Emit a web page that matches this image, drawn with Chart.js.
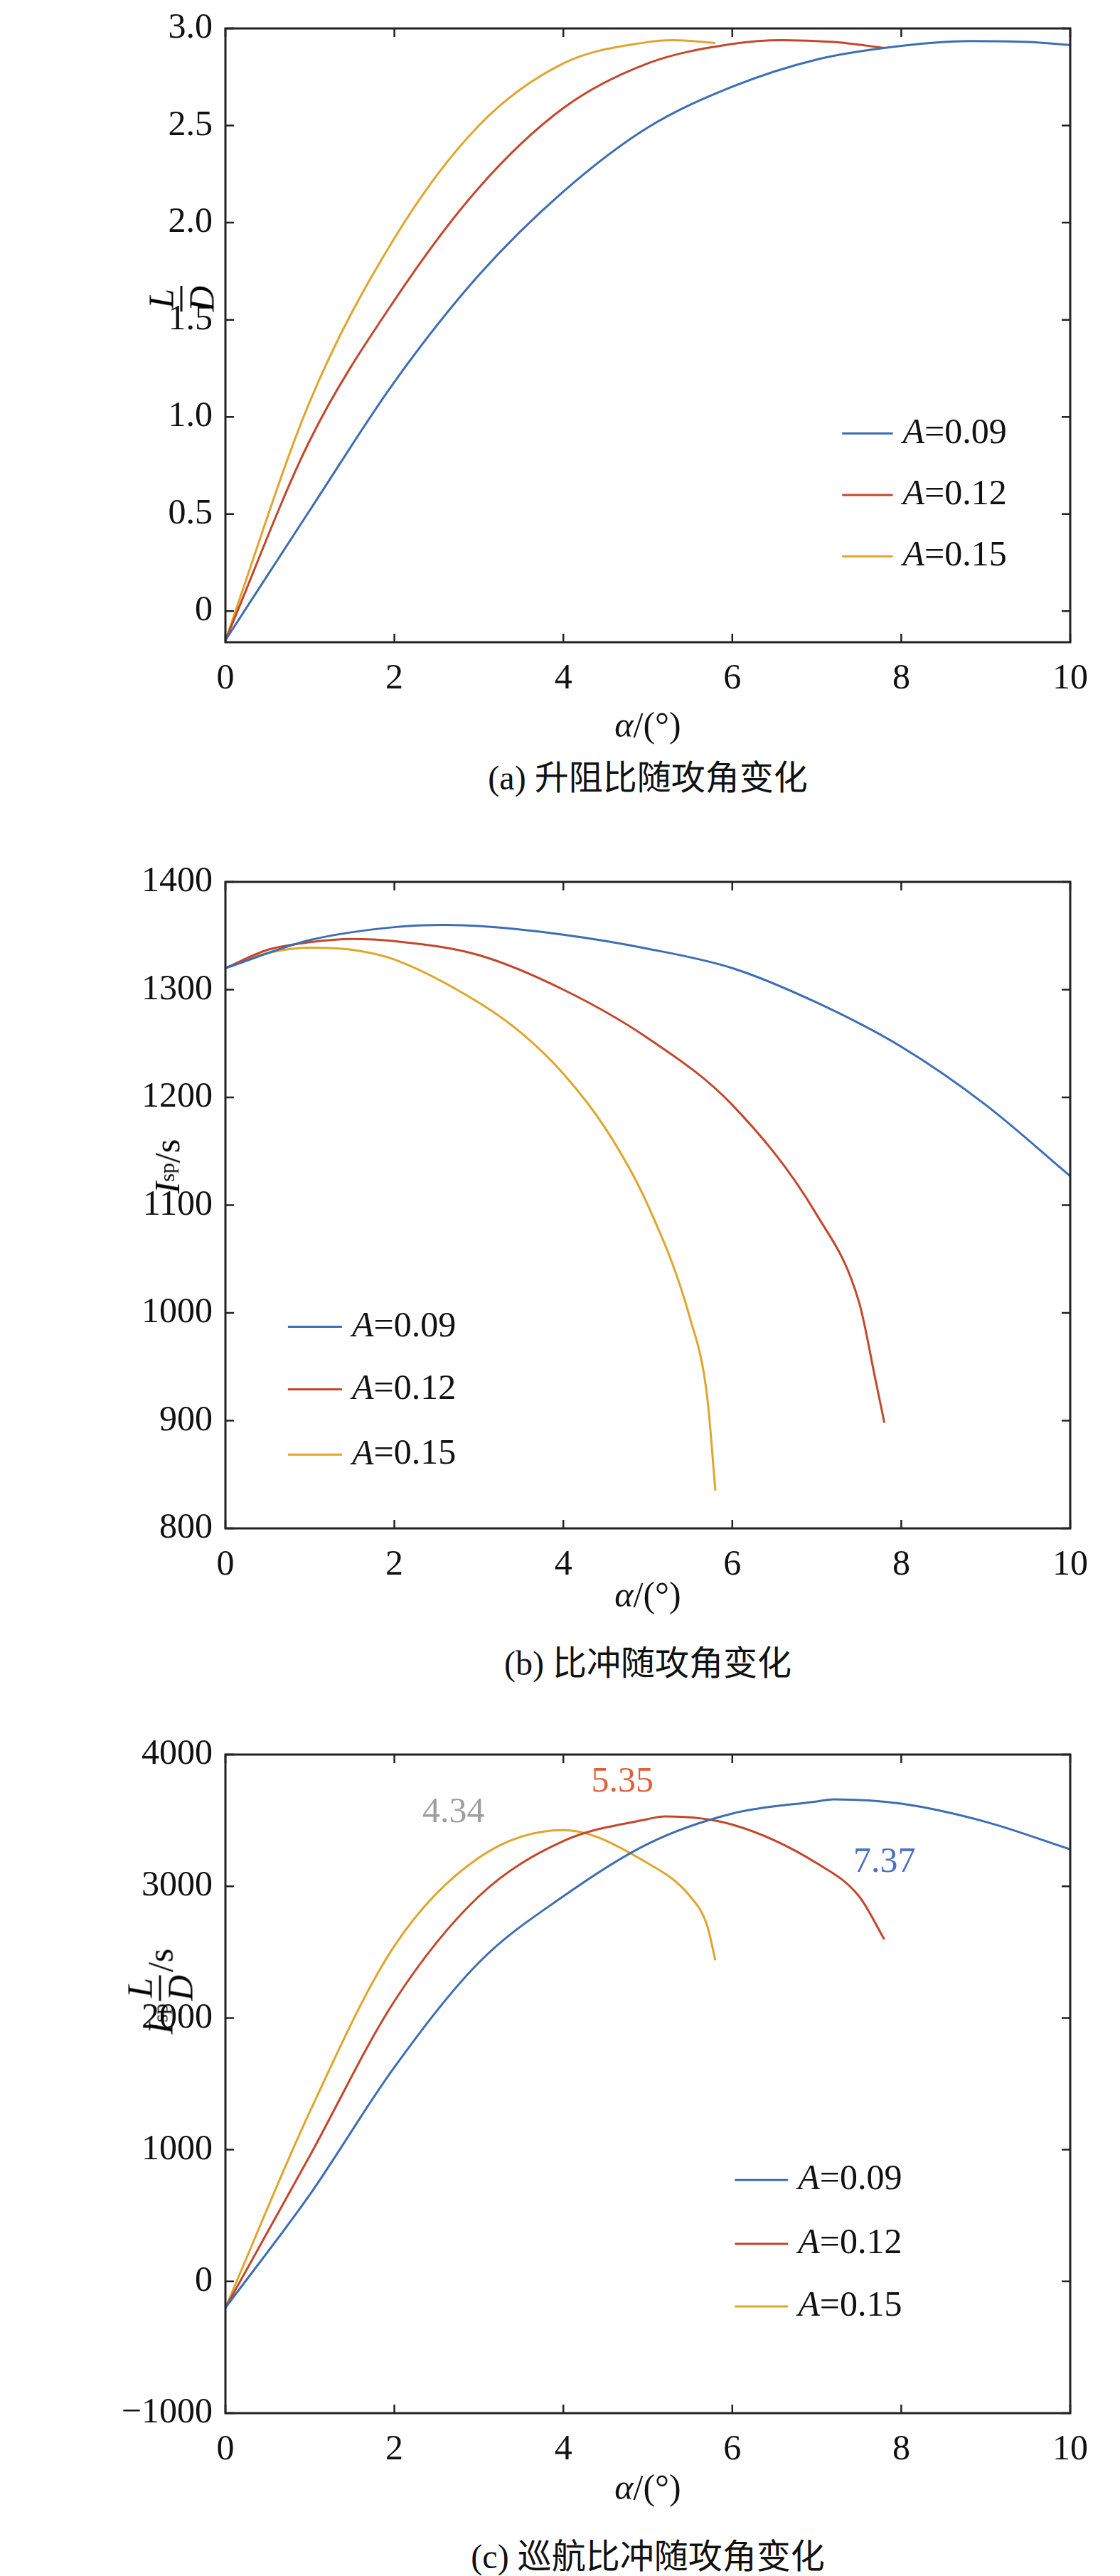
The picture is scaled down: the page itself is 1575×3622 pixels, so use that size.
<!DOCTYPE html>
<html><head><meta charset="utf-8">
<script src="https://cdn.jsdelivr.net/npm/chart.js@4.4.1/dist/chart.umd.min.js"></script>
<style>
body{margin:0;background:#fff;width:1575px;height:3622px;position:relative;font-family:"Liberation Serif","DejaVu Serif",serif;}
.cv{position:absolute;left:0;width:1575px;}
.t{position:absolute;font-size:50px;color:#111;white-space:nowrap;transform:translate(-50%,-50%);}
.cap{font-family:"Liberation Serif","Noto Sans CJK SC",serif;font-size:48px;}
.yl{position:absolute;transform:translate(-50%,-50%) rotate(-90deg);font-size:50px;white-space:nowrap;display:flex;align-items:center;}
.fr{display:inline-flex;flex-direction:column;align-items:center;font-style:italic;line-height:1;margin:0 4px;}
.fr span:first-child{border-bottom:3px solid #111;padding:0 4px 2px;}
.fr span:last-child{padding-top:2px;}
i{font-style:italic}
sub{font-size:30px}
</style></head><body>
<div class="cv" style="top:0;height:990px"><canvas id="ca"></canvas></div>
<div class="cv" style="top:1200px;height:1039px"><canvas id="cb"></canvas></div>
<div class="cv" style="top:2420px;height:1063px"><canvas id="cc"></canvas></div>
<div class="t" style="left:911px;top:1019px"><i>α</i>/(°)</div>
<div class="t cap" style="left:911px;top:1089px">(a) 升阻比随攻角变化</div>
<div class="t" style="left:911px;top:2242px"><i>α</i>/(°)</div>
<div class="t cap" style="left:911px;top:2334px">(b) 比冲随攻角变化</div>
<div class="t" style="left:911px;top:3497px"><i>α</i>/(°)</div>
<div class="t cap" style="left:911px;top:3590px">(c) 巡航比冲随攻角变化</div>
<div class="yl" style="left:255px;top:420px"><span class="fr"><span>L</span><span>D</span></span></div>
<div class="yl" style="left:235px;top:1640px"><i>I</i><sub>sp</sub>/s</div>
<div class="yl" style="left:225px;top:2800px"><i>I</i><sub>sp</sub><span class="fr"><span>L</span><span>D</span></span>/s</div>
<script>
const seriesNames=["A=0.09","A=0.12","A=0.15"];
const colors=["#3d6db4","#c4472b","#e0a52c"];
const xTicks=[0,2,4,6,8,10];
// (a) L/D
const ldX=[[0,1,2,3,4,5,6,7,8,8.8,9.5,10],[0,1,2,3,4,5,6,6.6,7.2,7.8],[0,1,2,3,4,5,5.3,5.8]];
const ldY=[[-0.15,0.52,1.18,1.73,2.16,2.49,2.70,2.84,2.91,2.935,2.93,2.915],[-0.15,0.88,1.60,2.18,2.59,2.82,2.92,2.94,2.93,2.90],[-0.15,1.08,1.92,2.50,2.82,2.93,2.94,2.925]];
const ldTicks=[0,0.5,1.0,1.5,2.0,2.5,3.0];
// (b) Isp
const ispX=[[0,1,2,2.6,3,4,5,6,7,8,9,10],[0,0.5,1,1.5,2,3,4,5,6,7,7.5,7.7,7.8],[0,0.5,1,1.5,2,3,3.5,4,4.5,5,5.5,5.7,5.8]];
const ispY=[[1320,1346,1358,1360,1359,1351,1338,1320,1288,1247,1193,1127],[1320,1337,1344,1347,1345,1332,1300,1255,1193,1091,1010,936,898],[1320,1334,1339,1337,1328,1288,1260,1222,1171,1100,995,924,835]];
const ispTicks=[800,900,1000,1100,1200,1300,1400];
// (c) Isp*L/D
const crX=[[0,1,2,3,4,5,6,7,7.2,8,9,10],[0,1,2,3,4,5,5.2,6,7,7.5,7.8],[0,1,2,3,4,5,5.5,5.7,5.8]];
const crY=[[-200,660,1626,2421,2924,3322,3552,3644,3660,3627,3489,3280],[-200,955,2128,2924,3343,3510,3530,3468,3175,2924,2597],[-200,1290,2547,3217,3426,3175,2924,2706,2438]];
const crTicks=[-1000,0,1000,2000,3000,4000];
const crLabels=[{t:"4.34",x:2.7,y:3560,c:"#9e9e9e"},{t:"5.35",x:4.7,y:3790,c:"#e0603a"},{t:"7.37",x:7.8,y:3180,c:"#4a70c2"}];

const frame={id:'frame',afterDraw(ch,a,o){const c=ch.ctx,A=ch.chartArea;c.save();c.strokeStyle='#222';c.lineWidth=3;
 c.strokeRect(A.left,A.top,A.right-A.left,A.bottom-A.top);c.lineWidth=2.5;
 ch.scales.x.ticks.forEach(t=>{const p=ch.scales.x.getPixelForValue(t.value);c.beginPath();c.moveTo(p,A.bottom);c.lineTo(p,A.bottom-12);c.moveTo(p,A.top);c.lineTo(p,A.top+12);c.stroke();});
 ch.scales.y.ticks.forEach(t=>{const p=ch.scales.y.getPixelForValue(t.value);c.beginPath();c.moveTo(A.left,p);c.lineTo(A.left+12,p);c.moveTo(A.right,p);c.lineTo(A.right-12,p);c.stroke();});
 const L=o.legend,W=A.right-A.left,H=A.bottom-A.top;
 c.font='50px "Liberation Serif"';c.textBaseline='middle';
 seriesNames.forEach((n,i)=>{const y=A.top+H*L.rows[i];c.strokeStyle=colors[i];c.lineWidth=3;c.beginPath();c.moveTo(A.left+W*L.x0,y);c.lineTo(A.left+W*L.x1,y);c.stroke();
  const tx=A.left+W*L.x1+14;c.fillStyle='#111';c.font='italic 50px "Liberation Serif"';c.fillText('A',tx,y);const w=c.measureText('A').width;c.font='50px "Liberation Serif"';c.fillText(n.slice(1),tx+w,y);});
 (o.labels||[]).forEach(l=>{c.fillStyle=l.c;c.font='50px "Liberation Serif"';c.textAlign='center';c.fillText(l.t,ch.scales.x.getPixelForValue(l.x),ch.scales.y.getPixelForValue(l.y));});
 c.restore();}};
Chart.register(frame);
function mk(id,xs,ys,ticks,ymin,ymax,step,pad,xh,legend,labels){
 new Chart(document.getElementById(id),{type:'line',
 data:{datasets:xs.map((xx,i)=>({label:seriesNames[i],data:xx.map((x,j)=>({x,y:ys[i][j]})),borderColor:colors[i],borderWidth:3,pointRadius:0,cubicInterpolationMode:'monotone',fill:false}))},
 options:{responsive:true,maintainAspectRatio:false,animation:false,layout:{padding:{top:pad,right:70,left:0,bottom:0}},
 plugins:{legend:{display:false},tooltip:{enabled:false},frame:{legend,labels}},
 scales:{x:{type:'linear',min:0,max:10,afterBuildTicks:s=>{s.ticks=xTicks.map(v=>({value:v}))},afterFit:s=>{s.height=xh},grid:{display:false},border:{display:false},ticks:{color:'#111',font:{family:'Liberation Serif',size:50},padding:14,maxRotation:0}},
 y:{type:'linear',min:ymin,max:ymax,afterBuildTicks:s=>{s.ticks=ticks.map(v=>({value:v}))},afterFit:s=>{s.width=317},grid:{display:false},border:{display:false},ticks:{color:'#111',font:{family:'Liberation Serif',size:50},padding:10,callback:v=>step<1?v.toFixed(1).replace(/^0\.0$/,'0'):(v<0?'\u2212'+(-v):String(v))}}}}});
}
mk('ca',ldX,ldY,ldTicks,-0.16,3.0,0.5,28,87,{x0:0.73,x1:0.79,rows:[0.66,0.76,0.86]});
mk('cb',ispX,ispY,ispTicks,800,1400,100,39,90,{x0:0.074,x1:0.138,rows:[0.688,0.785,0.886]});
mk('cc',crX,crY,crTicks,-1000,4000,1000,47,90,{x0:0.603,x1:0.666,rows:[0.646,0.743,0.838]},crLabels);
</script></body></html>
